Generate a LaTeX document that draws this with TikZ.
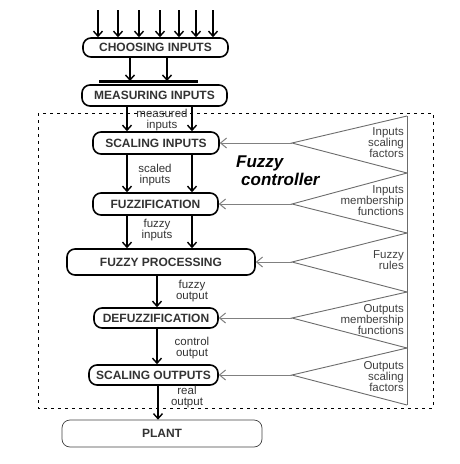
\documentclass[tikz,border=0pt]{standalone}
\usepackage{fontspec}
\setmainfont{Liberation Sans}
\usetikzlibrary{arrows.meta}
\begin{document}
\begin{tikzpicture}[x=1pt,y=-1pt,
      block/.style={rectangle, draw, line width=1.6pt, rounded corners=8pt,
                    inner sep=0pt, text=black!80,
                    font=\fontsize{12}{12}\selectfont\bfseries},
      lbl/.style={align=center, text=black!80, inner sep=0pt,
                  font=\fontsize{11.5}{11}\selectfont},
      factor/.style={align=right, anchor=east, text=black!75, inner sep=0pt,
                     font=\fontsize{11.5}{11}\selectfont},
      arrow/.style={-{Straight Barb[length=5pt,width=9pt]}, line width=1.4pt},
      feed/.style={-{Straight Barb[length=6pt,width=10pt]}, gray, line width=1pt},
      tri/.style={gray!85!black, line width=0.9pt}
    ]
    \useasboundingbox (0,0) rectangle (460,464);
    % controller frame
    \draw[dash pattern=on 3pt off 4pt, line width=0.6pt] (38,113) rectangle (433,408);
    % main chain
    \node[block, minimum width=145pt, minimum height=19pt] (choose) at (155.5,47.5) {CHOOSING INPUTS};
    \node[block, minimum width=145pt, minimum height=21pt] (meas)   at (154.5,95.5) {MEASURING INPUTS};
    \node[block, minimum width=126pt, minimum height=22pt] (scin)   at (156,143)    {SCALING INPUTS};
    \node[block, minimum width=125pt, minimum height=22pt] (fuzz)   at (155.5,204)  {FUZZIFICATION};
    \node[block, minimum width=188pt, minimum height=26pt] (proc)   at (161,262)    {FUZZY PROCESSING};
    \node[block, minimum width=124pt, minimum height=20pt] (defuz)  at (156,318)    {DEFUZZIFICATION};
    \node[block, minimum width=129pt, minimum height=20pt] (scout)  at (153.5,375)  {SCALING OUTPUTS};
    \node[block, line width=0.7pt, draw=black!75, minimum width=200pt, minimum height=27pt] (plant) at (162,433.5) {PLANT};
    % signal labels
    \node[lbl] (lmeas)  at (162,120.5) {measured\\inputs};
    \node[lbl] (lscal)  at (155,175.5) {scaled\\inputs};
    \node[lbl] (lfuzin) at (157,230)   {fuzzy\\inputs};
    \node[lbl] (lfuzout) at (192,291)  {fuzzy\\output};
    \node[lbl] (lctrl)  at (192,348.5) {control\\output};
    \node[lbl] (lreal)  at (187,397.5) {real\\output};
    \node[anchor=west, align=left, inner sep=0pt,
          font=\fontsize{17}{18}\selectfont\bfseries\itshape] (title) at (236,171)
          {Fuzzy\\\hspace*{5pt}controller};
    % inputs
    \foreach \x [count=\i] in {98,118,139,160,179,196,213}
      \coordinate (in\i) at (\x,10);
    \foreach \i in {1,...,7}
      \draw[arrow] (in\i) -- (in\i |- choose.north);
    \coordinate (barL) at (99,81);
    \coordinate (barR) at (198,81);
    \draw[line width=3pt] (barL) -- (barR);
    \draw[arrow] (130,0 |- choose.south) -- (130,0 |- barL);
    \draw[arrow] (167,0 |- choose.south) -- (167,0 |- barL);
    \draw[arrow] (127,0 |- meas.south) -- (127,0 |- scin.north);
    \draw[arrow] (192,0 |- meas.south) -- (192,0 |- scin.north);
    \draw[arrow] (127,0 |- scin.south) -- (127,0 |- fuzz.north);
    \draw[arrow] (192,0 |- scin.south) -- (192,0 |- fuzz.north);
    \draw[arrow] (127,0 |- fuzz.south) -- (127,0 |- proc.north);
    \draw[arrow] (192,0 |- fuzz.south) -- (192,0 |- proc.north);
    \draw[arrow] (157,0 |- proc.south) -- (157,0 |- defuz.north);
    \draw[arrow] (157,0 |- defuz.south) -- (157,0 |- scout.north);
    \draw[arrow] (158,0 |- scout.south) -- (158,0 |- plant.north);
    % knowledge base wedges
    \foreach \y [count=\i from 0] in {116,173,233,292,348,405}
      \coordinate (v\i) at (407,\y);
    \foreach \y [count=\i] in {143,204,262,318,375}
      \coordinate (a\i) at (292,\y);
    \draw[tri] (v0) -- (v5);
    \foreach \i [evaluate=\i as \j using int(\i-1)] in {1,...,5}
      \draw[tri] (v\j) -- (a\i) -- (v\i);
    \draw[feed] (a1) -- (scin.east);
    \draw[feed] (a2) -- (fuzz.east);
    \draw[feed] (a3) -- (proc.east);
    \draw[feed] (a4) -- (defuz.east);
    \draw[feed] (a5) -- (scout.east);
    \node[factor] (f1) at (404,143) {Inputs\\scaling\\factors};
    \node[factor] (f2) at (404,201) {Inputs\\membership\\functions};
    \node[factor] (f3) at (404,260) {Fuzzy\\rules};
    \node[factor] (f4) at (404,320) {Outputs\\membership\\functions};
    \node[factor] (f5) at (404,377) {Outputs\\scaling\\factors};
  \end{tikzpicture}
\end{document}
